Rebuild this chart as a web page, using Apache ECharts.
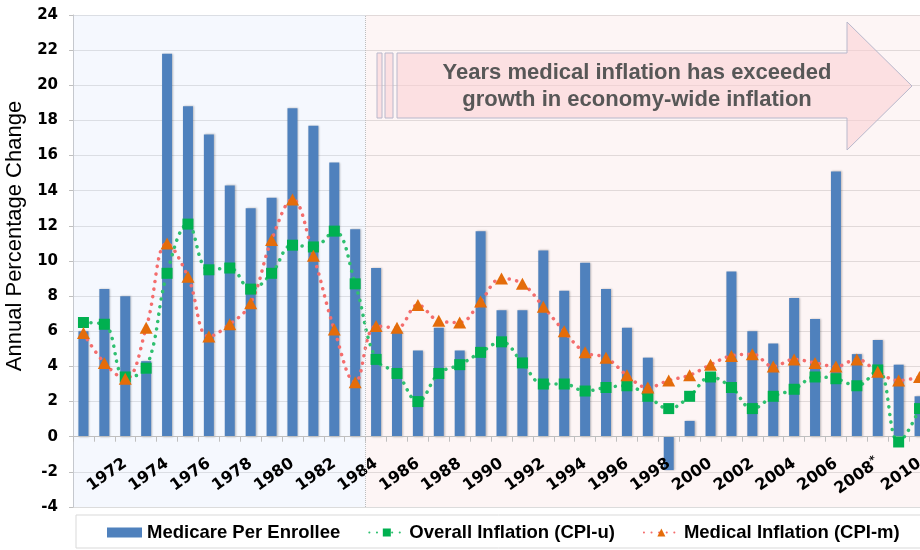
<!DOCTYPE html>
<html>
<head>
<meta charset="utf-8">
<script src="https://cdn.jsdelivr.net/npm/echarts@6/dist/echarts.min.js"></script>
<style>
  html, body { margin: 0; padding: 0; background: #fff; }
  #chart { width: 920px; height: 550px; }
</style>
</head>
<body>
<div id="chart"></div>
<script>
// years shown on the category axis
var years = ['1970', '1971', '1972', '1973', '1974', '1975', '1976', '1977', '1978', '1979',
  '1980', '1981', '1982', '1983', '1984', '1985', '1986', '1987', '1988', '1989',
  '1990', '1991', '1992', '1993', '1994', '1995', '1996', '1997', '1998', '1999',
  '2000', '2001', '2002', '2003', '2004', '2005', '2006', '2007', '2008', '2009', '2010']

// Medicare spending growth per enrollee (bars)
var medicare = [6.0, 8.4, 8.0, 4.3, 21.8, 18.8, 17.2, 14.3, 13.0, 13.6,
  18.7, 17.7, 15.6, 11.8, 9.6, 6.0, 4.9, 6.2, 4.9, 11.7,
  7.2, 7.2, 10.6, 8.3, 9.9, 8.4, 6.2, 4.5, -1.9, 0.9,
  3.6, 9.4, 6.0, 5.3, 7.9, 6.7, 15.1, 4.7, 5.5, 4.1, 2.3]

// overall inflation, CPI-u
var cpiU = [6.5, 6.4, 3.4, 3.9, 9.3, 12.1, 9.5, 9.6, 8.4, 9.3,
  10.9, 10.8, 11.7, 8.7, 4.4, 3.6, 2.0, 3.6, 4.1, 4.8,
  5.4, 4.2, 3.0, 3.0, 2.6, 2.8, 2.9, 2.3, 1.6, 2.3,
  3.4, 2.8, 1.6, 2.3, 2.7, 3.4, 3.3, 2.9, 3.8, -0.3, 1.6]

// medical inflation, CPI-m
var cpiM = [5.9, 4.2, 3.3, 6.2, 11.0, 9.1, 5.7, 6.4, 7.6, 11.2,
  13.5, 10.3, 6.1, 3.1, 6.3, 6.2, 7.5, 6.6, 6.5, 7.7,
  9.0, 8.7, 7.4, 6.0, 4.8, 4.5, 3.5, 2.8, 3.2, 3.5,
  4.1, 4.6, 4.7, 4.0, 4.4, 4.2, 4.0, 4.4, 3.7, 3.2, 3.4]

// category index where the "exceeded" period starts (1984)
var splitIndex = 14

var myChart = echarts.init(document.getElementById('chart'))

var option = {
  animation: false,
  backgroundColor: '#fff',
  grid: {
    left: 73,
    right: -10,
    top: 15,
    bottom: 43,
    containLabel: false,
    outerBoundsMode: 'none'
  },
  legend: {
    left: 107,
    top: 523,
    padding: 0,
    itemWidth: 35,
    itemHeight: 10,
    itemGap: 28,
    textStyle: {
      fontFamily: 'Liberation Sans',
      fontWeight: 'bold',
      fontSize: 18.5,
      color: '#000'
    },
    data: [
      {name: 'Medicare Per Enrollee', icon: 'rect'},
      {name: 'Overall Inflation (CPI-u)'},
      {name: 'Medical Inflation (CPI-m)'}
    ]
  },
  xAxis: [{
    type: 'category',
    data: years,
    z: 3,
    axisLine: {onZero: true, lineStyle: {color: '#bfbfbf'}},
    axisTick: {show: true, interval: 0, length: 5, lineStyle: {color: '#bfbfbf'}},
    axisLabel: {
      interval: function (index) { return index > 0 && index % 2 === 0 },
      rotate: 35,
      margin: -45,
      fontFamily: 'DejaVu Sans',
      fontWeight: 'bold',
      fontSize: 16,
      color: '#000',
      formatter: function (v) { return v === '2008' ? v + '{s|*}' : v },
      rich: {
        s: {fontSize: 11, fontWeight: 'bold', color: '#000', padding: [0, 0, 8, 0]}
      }
    },
    splitLine: {show: false}
  }, {
    type: 'value',
    min: 0,
    max: years.length,
    show: false
  }],
  yAxis: {
    type: 'value',
    min: -4,
    max: 24,
    interval: 2,
    name: 'Annual Percentage Change',
    nameLocation: 'middle',
    nameRotate: 90,
    nameGap: 45,
    nameTextStyle: {
      fontFamily: 'Liberation Sans',
      fontSize: 22,
      color: '#000',
      padding: [0, 0, 0, 50]
    },
    axisLine: {show: true, lineStyle: {color: '#bfbfbf'}},
    axisTick: {show: true, length: 4, lineStyle: {color: '#bfbfbf'}},
    axisLabel: {
      margin: 15,
      fontFamily: 'DejaVu Sans',
      fontWeight: 'bold',
      fontSize: 15,
      color: '#000'
    },
    splitLine: {lineStyle: {color: '#dcdcdc'}}
  },
  graphic: [
    // legend frame
    {
      type: 'rect',
      z: -1,
      shape: {x: 76, y: 515, width: 860, height: 33},
      style: {fill: '#fff', stroke: '#d9d9d9', lineWidth: 1}
    },
    // arrow and its two tail strips
    {
      type: 'rect',
      z: 10,
      shape: {x: 377, y: 53, width: 5, height: 65},
      style: {fill: 'rgba(252,205,210,0.55)', stroke: '#b8b8cc', lineWidth: 1}
    },
    {
      type: 'rect',
      z: 10,
      shape: {x: 385, y: 53, width: 8, height: 65},
      style: {fill: 'rgba(252,205,210,0.55)', stroke: '#b8b8cc', lineWidth: 1}
    },
    {
      type: 'polygon',
      z: 10,
      shape: {points: [[397, 53], [847, 53], [847, 22], [912, 86], [847, 150], [847, 118], [397, 118]]},
      style: {fill: 'rgba(252,205,210,0.55)', stroke: '#b8b8cc', lineWidth: 1}
    },
    {
      type: 'text',
      z: 11,
      x: 637,
      y: 59,
      style: {
        text: 'Years medical inflation has exceeded\ngrowth in economy-wide inflation',
        align: 'center',
        textAlign: 'center',
        verticalAlign: 'top',
        fontFamily: 'Liberation Sans',
        fontWeight: 'bold',
        fontSize: 22,
        lineHeight: 27,
        fill: '#575757'
      }
    }
  ],
  series: [
    {
      // background bands and the 1984 divider, on a hidden band-index axis
      type: 'line',
      xAxisIndex: 1,
      data: [],
      silent: true,
      markArea: {
        silent: true,
        data: [
          [{xAxis: 0, itemStyle: {color: 'rgba(215,228,250,0.25)'}}, {xAxis: splitIndex}],
          [{xAxis: splitIndex, itemStyle: {color: 'rgba(245,205,205,0.2)'}}, {xAxis: years.length}]
        ]
      },
      markLine: {
        silent: true,
        symbol: ['none', 'none'],
        label: {show: false},
        lineStyle: {color: '#bdbdbd', type: 'dotted', width: 1},
        data: [{xAxis: splitIndex}]
      }
    },
    {
      name: 'Medicare Per Enrollee',
      type: 'bar',
      data: medicare,
      barWidth: 10,
      itemStyle: {
        color: '#4f81bd',
        shadowColor: 'rgba(0,0,0,0.25)',
        shadowBlur: 2,
        shadowOffsetX: 1
      }
    },
    {
      name: 'Overall Inflation (CPI-u)',
      type: 'line',
      z: 4,
      data: cpiU,
      smooth: 0.4,
      symbol: 'rect',
      symbolSize: 11,
      itemStyle: {color: '#00b050'},
      lineStyle: {color: '#2fc070', width: 3.5, type: [0.1, 7.5], cap: 'round'}
    },
    {
      name: 'Medical Inflation (CPI-m)',
      type: 'line',
      z: 4,
      data: cpiM,
      smooth: 0.4,
      symbol: 'triangle',
      symbolSize: [13, 12],
      itemStyle: {color: '#e46c0a'},
      lineStyle: {color: '#f46d6d', width: 3.5, type: [0.1, 7.5], cap: 'round'}
    }
  ]
}

myChart.setOption(option)
window.addEventListener('resize', function () {
  myChart.resize()
})
</script>
</body>
</html>
